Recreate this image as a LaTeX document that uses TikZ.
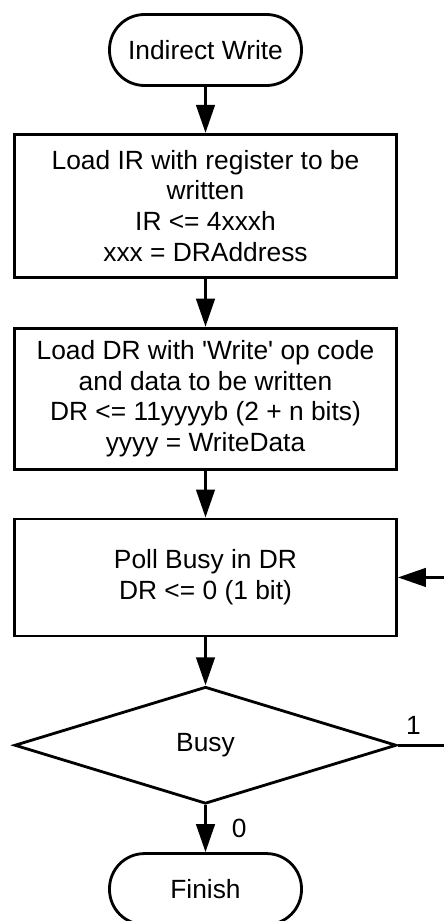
\documentclass[tikz,border=0pt]{standalone}
\usepackage{fontspec}
\setsansfont{Liberation Sans}
\usetikzlibrary{arrows.meta, positioning, shapes.geometric, calc}

\begin{document}
\begin{tikzpicture}[
    font=\sffamily\fontsize{15}{17.5}\selectfont,
    line width=1.6pt,
    term/.style={draw, rounded corners=0.7cm, align=center,
        minimum width=3.84cm, minimum height=1.42cm},
    task/.style={draw, align=center, inner sep=2pt,
        minimum width=7.64cm},
    test/.style={draw, diamond, inner sep=0pt, aspect=3.2,
        minimum width=7.64cm, minimum height=2.34cm},
    flow/.style={-{Triangle[length=5.6mm, width=3.7mm]}},
]
\useasboundingbox (0,0) rectangle (8.86,-18.42);

\node[term] (start) at (4.11,-1.0) {Indirect Write};
\node[task, minimum height=2.86cm, below=0.92cm of start] (loadir)
    {Load IR with register to be\\written\\IR <= 4xxxh\\xxx = DRAddress};
\node[task, minimum height=2.82cm, below=0.96cm of loadir] (loaddr)
    {Load DR with \textquotesingle Write\textquotesingle{} op code\\and data to be written\\DR <= 11yyyyb (2 + n bits)\\yyyy = WriteData};
\node[task, minimum height=2.34cm, below=0.94cm of loaddr] (poll)
    {Poll Busy in DR\\DR <= 0 (1 bit)};
\node[test, below=0.96cm of poll] (busy) {Busy};
\node[term, below=0.94cm of busy] (finish) {Finish};

\foreach \a/\b in {start/loadir, loadir/loaddr, loaddr/poll, poll/busy} \draw[flow] (\a)--(\b);
\draw[flow] (busy) -- node[right=0.38cm] {0} (finish);

% retry loop, runs off the right edge
\coordinate (loop) at ($(busy.east)+(1.3,0)$);
\draw[flow] (busy.east) -- node[pos=0.24, above=2pt] {1} (loop) |- (poll.east);

\end{tikzpicture}
\end{document}
